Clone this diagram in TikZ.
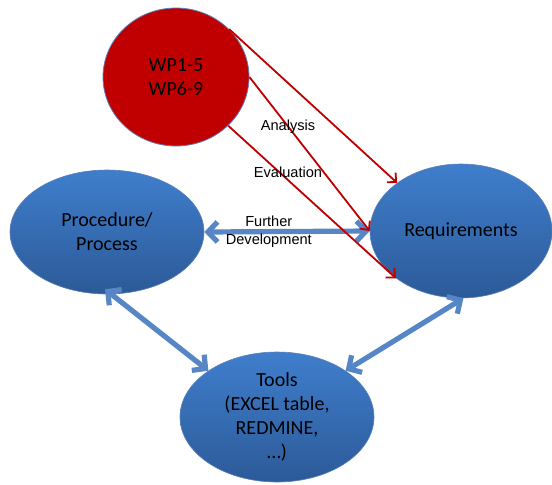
\documentclass[tikz,border=0pt]{standalone}
\usepackage{fontspec}
\setmainfont{Carlito}
\newfontfamily\lblfont{Liberation Sans}
\usetikzlibrary{shapes.geometric,arrows.meta}

\definecolor{wpred}{HTML}{C00000}
\definecolor{balltop}{HTML}{3F7ECC}
\definecolor{ballbot}{HTML}{2C5A98}
\definecolor{linkblue}{HTML}{5686C6}
\definecolor{rimblue}{HTML}{5B7FB8}
\definecolor{inktext}{HTML}{000000}

\tikzset{
  ball/.style={ellipse, inner sep=0pt, align=center,
               font=\fontsize{10}{12}\selectfont\color{inktext},
               top color=balltop, bottom color=ballbot, draw=rimblue, line width=0.3pt,
               text=inktext},
  wpball/.style={ellipse, inner sep=0pt, align=center,
                 font=\fontsize{10}{12}\selectfont\color{inktext},
                 fill=wpred, draw=rimblue, line width=0.4pt, text=inktext},
  redarrow/.style={draw=wpred, line width=0.9pt, -{Straight Barb[length=3.4pt,width=6.5pt]}},
  bluearrow/.style={draw=linkblue, line width=2.6pt,
                    {Straight Barb[length=4.8pt,width=10pt]}-{Straight Barb[length=4.8pt,width=10pt]}},
  lbl/.style={font=\lblfont\fontsize{7.3}{9}\selectfont, align=center, inner sep=0pt, text=inktext}
}

\begin{document}
\begin{tikzpicture}[x=0.5pt, y=-0.5pt]
  \useasboundingbox (0,0) rectangle (552,484);

  % 1. the four ellipses
  \node[wpball, minimum width=73pt, minimum height=69pt] (wp) at (176,77) {WP1-5\\WP6-9};
  \node[ball, minimum width=97pt, minimum height=62pt] (proc) at (107,232) {Procedure/\\Process};
  \node[ball, minimum width=91pt, minimum height=67pt] (req) at (461,231) {Requirements};
  \node[ball, minimum width=97pt, minimum height=65pt] (tools) at (277,417)
       {Tools\\(EXCEL table,\\REDMINE,\\\dots)};

  % 2. blue links between the ellipses
  \draw[bluearrow] (proc.east) -- (req.west)
       node[lbl, pos=0.39] (fd) {Further\\Development};
  \draw[bluearrow, shorten <=-4pt] (proc.-86) -- (tools.146);
  \draw[bluearrow] (tools.34) -- (req.-88);

  % 3. red arrows from the work packages
  \draw[redarrow] (wp.42) -- (req.143);
  \draw[redarrow] (wp.east) -- (req.west);
  \draw[redarrow] (wp.-43) -- (req.216);

  % 4. labels between the red arrows
  \node[lbl] (ana) at (288,127) {Analysis};
  \node[lbl] (eva) at (288,172) {Evaluation};
\end{tikzpicture}
\end{document}
